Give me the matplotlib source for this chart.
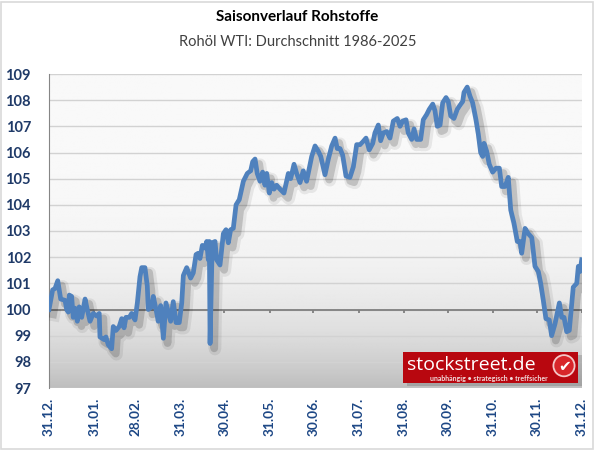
import numpy as np
import matplotlib.pyplot as plt
import matplotlib.patheffects as pe
from matplotlib.patches import Rectangle, Circle

# seasonal average, day of year vs. index (31.12. = 100)
days = [0, 2.5, 4.1, 6.0, 8.0, 11.0, 12.1, 13.2, 13.9, 15.5, 16.6, 17.8, 19.4, 20.7, 22.4,
        24.7, 26.2, 28.1, 30.3, 32.7, 34.4, 34.9, 37.7, 39.0, 40.6, 42.9, 44.0, 45.9, 48.1,
        49.8, 51.4, 52.7, 55.0, 56.6, 58.9, 60.5, 62.3, 63.5, 65.7, 67.3, 68.0, 70.3, 71.4,
        73.3, 74.8, 76.5, 78.3, 80.1, 83.3, 85.1, 87.0, 89.2, 90.9, 92.0, 94.3, 97.0, 98.8,
        100.7, 102.2, 103.4, 105.0, 106.8, 108.0, 109.1, 109.8, 110.3, 111.8, 113.7, 114.8,
        117.1, 119.4, 121.2, 122.8, 124.4, 126.2, 128.1, 130.3, 133.1, 135.8, 138.1, 139.5,
        141.1, 142.6, 144.5, 146.3, 147.9, 149.1, 150.9, 152.5, 154.1, 155.9, 158.2, 160.9,
        163.9, 165.5, 167.8, 169.6, 171.9, 174.1, 176.4, 179.9, 182.2, 184.4, 186.1, 189.0,
        191.3, 193.6, 195.9, 197.4, 199.3, 201.1, 203.4, 206.1, 208.4, 210.7, 213.0, 214.8,
        217.1, 219.3, 221.7, 223.2, 225.5, 227.1, 228.9, 231.3, 233.5, 235.8, 238.5, 240.4,
        242.2, 244.5, 246.0, 248.4, 250.0, 251.8, 254.5, 256.3, 258.6, 260.4, 262.8, 264.3,
        265.9, 267.8, 269.6, 271.9, 273.4, 275.1, 277.3, 279.6, 281.4, 283.3, 284.2, 286.4,
        288.3, 290.1, 292.4, 294.0, 295.6, 297.0, 297.9, 299.7, 301.5, 303.8, 306.1, 308.4,
        310.0, 312.3, 314.5, 316.2, 318.4, 320.7, 322.5, 323.7, 326.0, 328.2, 330.6, 332.8,
        335.1, 336.7, 338.5, 340.3, 342.6, 344.2, 346.5, 349.5, 351.1, 352.7, 354.5, 356.3,
        359.0, 361.4, 362.5, 363.6, 364.8]
values = [100.0, 100.75, 100.8, 101.1, 100.4, 100.35, 100.0, 99.9, 100.55, 100.5, 99.7, 100.05,
          99.55, 100.1, 99.7, 100.4, 100.0, 99.55, 99.85, 99.75, 99.85, 98.95, 98.85, 98.95,
          98.65, 98.5, 99.35, 99.2, 99.35, 99.65, 99.3, 99.7, 99.7, 99.85, 99.6, 100.25,
          101.25, 101.6, 101.6, 100.9, 100.0, 100.1, 100.5, 100.0, 99.55, 100.15, 98.9, 100.25,
          99.55, 100.3, 99.5, 99.5, 100.25, 101.3, 101.6, 101.2, 101.4, 102.1, 102.15, 101.95,
          102.45, 102.35, 102.6, 101.9, 102.6, 98.7, 102.55, 102.6, 101.9, 101.7, 102.9, 103.05,
          102.55, 103.05, 103.1, 104.0, 104.2, 104.9, 105.2, 105.3, 105.65, 105.75, 105.2,
          104.9, 105.25, 104.75, 105.2, 104.45, 104.85, 104.6, 104.75, 104.6, 104.45, 105.2,
          105.0, 105.55, 105.2, 104.85, 105.3, 104.9, 105.85, 106.25, 106.05, 105.85, 105.15,
          105.75, 106.25, 106.55, 106.15, 106.15, 105.9, 105.1, 105.05, 105.45, 106.3, 106.3,
          106.4, 106.55, 106.1, 106.35, 106.75, 107.05, 106.45, 106.75, 106.8, 106.55, 107.2,
          107.3, 107.0, 107.2, 107.25, 106.75, 106.5, 106.9, 106.5, 106.5, 107.25, 107.45,
          107.65, 107.85, 107.6, 107.0, 107.05, 107.9, 108.1, 107.95, 107.4, 107.3, 107.65,
          107.8, 107.95, 108.3, 108.5, 108.15, 107.9, 107.25, 106.7, 106.0, 105.85, 106.35,
          106.05, 105.55, 105.25, 105.4, 105.4, 104.7, 104.7, 105.05, 103.8, 103.3, 102.6,
          102.6, 102.15, 103.1, 102.9, 102.75, 101.65, 101.45, 101.0, 100.35, 99.65, 99.6,
          99.0, 99.45, 100.25, 99.7, 99.7, 99.15, 99.2, 100.85, 101.0, 101.65, 101.45, 101.9]

month_days = [0, 31, 59, 90, 120, 151, 181, 212, 243, 273, 304, 334, 365]
month_labels = ["31.12.", "31.01.", "28.02.", "31.03.", "30.04.", "31.05.", "30.06.",
                "31.07.", "31.08.", "30.09.", "31.10.", "30.11.", "31.12."]
y_ticks = list(range(97, 110))

plt.rcParams['font.family'] = ['Lato', 'DejaVu Sans']

fig = plt.figure(figsize=(5.95, 4.5), dpi=100)
ax = fig.add_axes([49/595, 62/450, 533/595, 314/450])

# grey gradient of the plot area
t = np.linspace(0, 1, 256)[:, None]
shade = 0.975 - 0.23 * t**4
ax.imshow(np.repeat(shade, 2, axis=1), cmap='gray', vmin=0, vmax=1,
          extent=[0, 365, 97, 109], aspect='auto', origin='upper', zorder=0)

ax.set_xlim(0, 365)
ax.set_ylim(97, 109)
ax.set_yticks(y_ticks)
ax.grid(axis='y', color='#d2d2d2', lw=1, zorder=1)
ax.set_axisbelow(True)

for s in ['top', 'right', 'bottom']:
    ax.spines[s].set_visible(False)
ax.spines['left'].set_color('#868686')

# category axis sits on 100
ax.axhline(100, color='#7f7f7f', lw=1.3, zorder=2)
ax.vlines(month_days, 99.85, 100, color='#7f7f7f', lw=1.3, zorder=2)

ax.set_xticks(month_days)
ax.set_xticklabels(month_labels, rotation=90, fontweight='bold', fontsize=9.8, color='#1d4785')
ax.tick_params(axis='x', length=0, pad=7)
ax.set_yticklabels([str(v) for v in y_ticks], fontweight='bold', fontsize=10.5, color='#1f3a68')
ax.tick_params(axis='y', length=0, pad=13)

ax.plot(days, values, color='#4f81bd', lw=3.4, solid_joinstyle='round', zorder=4,
        path_effects=[pe.SimpleLineShadow(offset=(3.5, -4), shadow_color='black', alpha=0.07, linewidth=9),
                      pe.SimpleLineShadow(offset=(3, -3.5), shadow_color='black', alpha=0.16, linewidth=5.5),
                      pe.Normal()])

fig.text(0.5, 1 - 17/450, "Saisonverlauf Rohstoffe", ha='center', va='center',
         fontsize=11, fontweight='bold', color='black')
fig.text(0.5, 1 - 42/450, "Rohöl WTI: Durchschnitt 1986-2025", ha='center', va='center',
         fontsize=10.5, color='#404040')

# logo
px = fig.dpi_scale_trans
fig.patches.append(Rectangle((4.07, 0.64), 1.75, 0.31, transform=px, facecolor='black',
                             alpha=0.15, edgecolor='none', zorder=5))
fig.patches.append(Rectangle((4.03, 0.67), 1.75, 0.31, transform=px, facecolor='#b8070f',
                             edgecolor='none', zorder=6))
fig.text(4.07, 0.80, "stockstreet.de", transform=px, ha='left', va='baseline',
         fontsize=14, color='white', family=['Open Sans', 'DejaVu Sans'], zorder=7)
fig.text(4.89, 0.72, "unabhängig • strategisch • treffsicher", transform=px, ha='center',
         va='center', fontsize=5, fontweight='bold', color='#f2dcdc', zorder=7)
fig.patches.append(Circle((5.64, 0.843), 0.115, transform=px, facecolor='#f4c7c7',
                          edgecolor='none', zorder=7))
fig.patches.append(Circle((5.64, 0.843), 0.097, transform=px, facecolor='#d8262a',
                          edgecolor='none', zorder=8))
fig.text(5.645, 0.835, "\u2714", transform=px, ha='center', va='center', fontsize=11,
         color='white', family=['DejaVu Sans'], zorder=9)

# chart border
fig.patches.append(Rectangle((0.002, 0.002), 0.994, 0.994, transform=fig.transFigure,
                             fill=False, edgecolor='#d9d9d9', lw=1.2))

fig.savefig('out.png', dpi=100)
